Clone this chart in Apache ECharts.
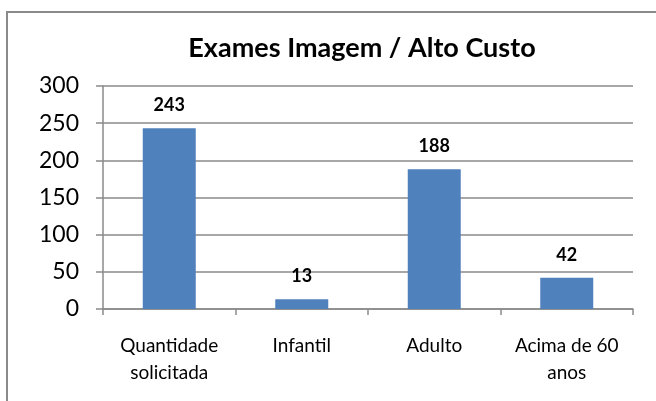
<!DOCTYPE html>
<html>
<head>
<meta charset="utf-8">
<script src="https://cdn.jsdelivr.net/npm/echarts@6/dist/echarts.min.js"></script>
<style>
  html, body { margin: 0; padding: 0; background: #fff; }
  #chart { width: 656px; height: 401px; }
</style>
</head>
<body>
<div id="chart"></div>
<script>
// dados do gráfico
var categorias = ['Quantidade\nsolicitada', 'Infantil', 'Adulto', 'Acima de 60\nanos'];
var valores = [243, 13, 188, 42];
var titulo = 'Exames Imagem / Alto Custo';

var fonte = 'Lato, "Open Sans", sans-serif';
var cinza = '#8a8a8a';

var chart = echarts.init(document.getElementById('chart'));
var option = {
  animation: false,
  backgroundColor: '#fff',
  title: {
    text: titulo,
    left: 357,
    textAlign: 'center',
    top: 30,
    textStyle: { fontFamily: fonte, fontSize: 27, fontWeight: 'bold', color: '#000' }
  },
  graphic: [{
    type: 'rect',
    shape: { x: 7, y: 12, width: 700, height: 500 },
    style: { fill: 'none', stroke: cinza, lineWidth: 2 },
    silent: true
  }],
  grid: { left: 103, right: 23, top: 86, bottom: 92 },
  xAxis: {
    type: 'category',
    data: categorias,
    axisLine: { lineStyle: { color: cinza, width: 1.5 } },
    axisTick: { show: true, interval: 0, length: 6, lineStyle: { color: cinza, width: 1.5 } },
    axisLabel: { interval: 0, fontFamily: fonte, fontSize: 19, lineHeight: 27, color: '#000', margin: 23 }
  },
  yAxis: {
    type: 'value',
    min: 0,
    max: 300,
    interval: 50,
    axisLine: { show: true, lineStyle: { color: cinza, width: 1.5 } },
    axisTick: { show: true, length: 7, lineStyle: { color: cinza, width: 1.5 } },
    splitLine: { show: true, lineStyle: { color: cinza, width: 1.5 } },
    axisLabel: { fontFamily: fonte, fontSize: 23, color: '#000', margin: 24 }
  },
  series: [{
    type: 'bar',
    data: valores,
    barCategoryGap: '60%',
    itemStyle: { color: '#4F81BD' },
    label: {
      show: true,
      position: 'top',
      distance: 14,
      fontFamily: fonte,
      fontSize: 18,
      fontWeight: 'bold',
      color: '#000'
    }
  }]
};
chart.setOption(option);
</script>
</body>
</html>
